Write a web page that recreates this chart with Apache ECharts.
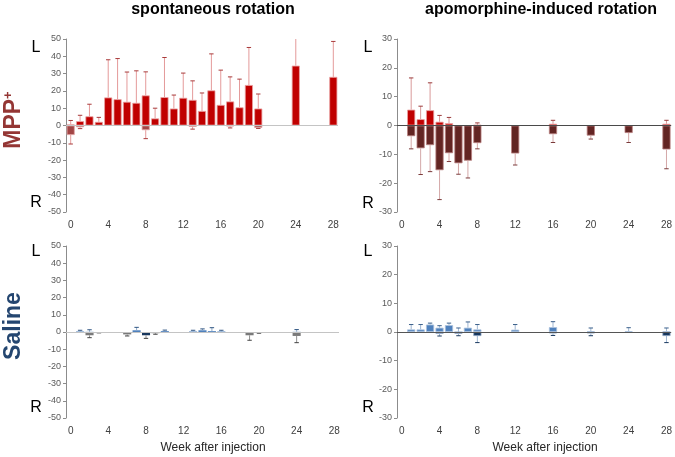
<!DOCTYPE html>
<html>
<head>
<meta charset="utf-8">
<script src="https://cdn.jsdelivr.net/npm/echarts@6/dist/echarts.min.js"></script>
<style>html,body{margin:0;padding:0;background:#fff}#c{width:675px;height:457px}</style>
</head>
<body>
<div id="c"></div>
<script>
// Category labels (weeks after injection)
const weeks = ['0','1','2','3','4','5','6','7','8','9','10','11','12','13','14','15','16','17','18','19','20','21','22','23','24','25','26','27','28'];

// MPP+ spontaneous rotation
const tlLWeeks = [0,1,2,3,4,5,6,7,8,9,10,11,12,13,14,15,16,17,18,19,20,24,28];
const tlL      = [0.6,2.5,5.3,2.1,16.2,15.2,13.7,13.1,17.4,4.1,16.4,9.8,16.0,14.8,8.4,20.3,11.9,13.9,10.5,23.4,9.8,34.6,28.1];
const tlLErr   = [2.3,3.4,7.0,2.6,21.8,23.5,17.2,18.5,13.6,5.9,22.9,7.8,14.3,11.0,10.4,21.1,20.1,14.2,16.3,21.7,8.4,16.0,20.5];
const tlRWeeks = [0,1,8,13,17,20];
const tlR      = [-5.5,-1.0,-2.7,-0.8,-0.5,-1.4];
const tlRErr   = [5.2,0.8,4.9,1.3,0.9,0.3];

// MPP+ apomorphine-induced rotation
const trLWeeks = [1,2,3,4,5,8,16,28];
const trL      = [5.5,2.2,5.3,1.3,0.8,0.2,0.6,0.6];
const trLErr   = [11.0,4.5,9.5,2.2,2.0,0.7,1.2,1.2];
const trRWeeks = [1,2,3,4,5,6,7,8,12,16,20,24,28];
const trR      = [-3.7,-7.9,-6.8,-15.5,-9.6,-13.1,-12.2,-6.1,-9.7,-3.0,-3.5,-2.6,-8.3];
const trRErr   = [4.4,9.1,9.2,10.2,2.9,3.8,6.0,2.0,4.0,2.9,1.2,3.3,6.7];

// Saline spontaneous rotation
const blLWeeks = [1,2,7,10,13,14,15,16,24];
const blL      = [0.3,0.1,1.0,0.5,0.3,1.0,0.5,0.3,0.1];
const blLErr   = [0.7,1.2,1.7,0.6,0.7,0.8,2.0,0.7,1.3];
const blRWeeks = [2,3,6,8,9,19,20,24];
const blR      = [-1.9,-0.3,-1.4,-1.9,-0.7,-1.9,-0.5,-2.3];
const blRErr   = [1.4,0.2,0.9,1.8,0.6,2.9,0.2,3.9];

// Saline apomorphine-induced rotation
const brLWeeks = [1,2,3,4,5,6,7,8,12,16,20,24,28];
const brL      = [0.9,0.9,2.6,1.5,2.4,0,1.5,0.9,0.8,1.7,0.3,0.3,0.2];
const brLErr   = [1.7,1.7,0.5,0.7,0.7,1.4,2.0,1.7,1.8,1.9,1.1,1.2,1.2];
const brRWeeks = [4,6,8,16,20,28];
const brR      = [-0.6,-0.6,-1.4,-0.5,-0.5,-1.4];
const brRErr   = [0.8,0.7,2.3,0.7,0.8,2.3];

const yTicksTop = {min:-50,max:50,interval:10};
const yTicksApo = {min:-30,max:30,interval:10};

const chart = echarts.init(document.getElementById('c'));

const grids = [
  {left:66, top:39, width:272, height:173},
  {left:397, top:39, width:276, height:173},
  {left:66, top:246, width:273, height:172},
  {left:397, top:246, width:276, height:172}
];

function xAx(i){
  return {type:'category', gridIndex:i, data:weeks, boundaryGap:true,
    axisLine:{show:false, onZero:false}, axisTick:{show:false},
    axisLabel:{interval:3, fontSize:10, color:'#404040', fontFamily:'Liberation Sans, Arial', margin:8}};
}
function yAx(i, t){
  return {type:'value', gridIndex:i, min:t.min, max:t.max, interval:t.interval,
    splitLine:{show:false},
    axisLine:{show:true, lineStyle:{color:'#8c8c8c'}},
    axisTick:{show:true, length:3, lineStyle:{color:'#8c8c8c'}},
    axisLabel:{fontSize:9, color:'#595959', fontFamily:'Liberation Sans, Arial', margin:5}};
}

function pairs(w, v){ return w.map((x,k)=>[x, v[k]]); }
function errData(w, v, e, sign){ return w.map((x,k)=>[x, v[k], v[k] + sign*e[k]]); }

function zeroLine(i, color){
  return {type:'line', xAxisIndex:i, yAxisIndex:i, data:[], z:1, silent:true,
    markLine:{silent:true, symbol:'none', label:{show:false}, animation:false,
      lineStyle:{color:color, type:'solid', width:1}, data:[{yAxis:0}]}};
}
function barSeries(i, w, v, color, border, bw){
  return {type:'bar', xAxisIndex:i, yAxisIndex:i, data:pairs(w,v), barWidth:'86%', barGap:'-100%',
    itemStyle:{color:color, borderColor:border, borderWidth:(bw === undefined ? 0.8 : bw)}, z:2, silent:true};
}
function errSeries(i, w, v, e, sign, lineColor, capColor){
  return {type:'custom', xAxisIndex:i, yAxisIndex:i, data:errData(w,v,e,sign), clip:true, z:3, silent:true,
    renderItem:function(params, api){
      const x = api.value(0), a = api.value(1), b = api.value(2);
      const p0 = api.coord([x, a]);
      const p1 = api.coord([x, b]);
      return {type:'group', children:[
        {type:'line', shape:{x1:p0[0], y1:p0[1], x2:p1[0], y2:p1[1]}, style:{stroke:lineColor, lineWidth:1}},
        {type:'line', shape:{x1:p1[0]-2.2, y1:p1[1], x2:p1[0]+2.2, y2:p1[1]}, style:{stroke:capColor, lineWidth:1}}
      ]};
    }};
}

const series = [
  zeroLine(0, '#c4c4c4'),
  barSeries(0, tlLWeeks, tlL, '#c00000', '#eaa2a2'),
  barSeries(0, tlRWeeks, tlR, '#a24545', '#e2a4a4'),
  errSeries(0, tlLWeeks, tlL, tlLErr, 1, '#e49a9a', '#a83a3a'),
  errSeries(0, tlRWeeks, tlR, tlRErr, -1, '#e49a9a', '#a83a3a'),

  zeroLine(1, '#4a4a4a'),
  barSeries(1, trLWeeks, trL, '#c00000', '#eaa2a2'),
  barSeries(1, trRWeeks, trR, '#632523', '#b98080'),
  errSeries(1, trLWeeks, trL, trLErr, 1, '#d99a9a', '#9a3a3a'),
  errSeries(1, trRWeeks, trR, trRErr, -1, '#d4a8a8', '#7a3a3a'),

  zeroLine(2, '#c4c4c4'),
  barSeries(2, blLWeeks, blL, '#4f81bd', '#4f81bd', 0),
  Object.assign(barSeries(2, blRWeeks, blR, '#808080', '#808080', 0),
    {itemStyle:{borderWidth:0,
      color:function(p){ return p.data[0] === 8 ? '#17375e' : '#7a7a7a'; }}}),
  errSeries(2, blLWeeks, blL, blLErr, 1, '#8fa9c8', '#2f5582'),
  errSeries(2, blRWeeks, blR, blRErr, -1, '#909090', '#404040'),

  zeroLine(3, '#555555'),
  barSeries(3, brLWeeks, brL, '#4f81bd', '#a9c0dc'),
  barSeries(3, brRWeeks, brR, '#17375e', '#8da4c4'),
  errSeries(3, brLWeeks, brL, brLErr, 1, '#9fb6d2', '#3a5f8a'),
  errSeries(3, brRWeeks, brR, brRErr, -1, '#9fb6d2', '#17375e')
];

const txt = (x, y, text, font, color, extra) => Object.assign({type:'text', x:x, y:y, silent:true,
  style:{text:text, font:font, fill:color, align:'center', verticalAlign:'middle'}}, extra || {});

const graphic = [
  txt(213, 10, 'spontaneous rotation', 'bold 16px "Liberation Sans", Arial', '#000'),
  txt(541, 10, 'apomorphine-induced rotation', 'bold 16px "Liberation Sans", Arial', '#000'),
  txt(36, 48, 'L', '16px "Liberation Sans", Arial', '#000'),
  txt(36, 203, 'R', '16px "Liberation Sans", Arial', '#000'),
  txt(368, 48, 'L', '16px "Liberation Sans", Arial', '#000'),
  txt(368, 204, 'R', '16px "Liberation Sans", Arial', '#000'),
  txt(36, 252, 'L', '16px "Liberation Sans", Arial', '#000'),
  txt(36, 408, 'R', '16px "Liberation Sans", Arial', '#000'),
  txt(368, 252, 'L', '16px "Liberation Sans", Arial', '#000'),
  txt(368, 408, 'R', '16px "Liberation Sans", Arial', '#000'),
  txt(213, 448, 'Week after injection', '12px "Liberation Sans", Arial', '#262626'),
  txt(545, 448, 'Week after injection', '12px "Liberation Sans", Arial', '#262626'),
  {type:'text', x:14, y:120, rotation:Math.PI/2, silent:true,
    style:{text:'MPP{sup|+}', font:'bold 23px "Liberation Sans", Arial', fill:'#943634', align:'center', verticalAlign:'middle',
      rich:{sup:{font:'bold 13px "Liberation Sans", Arial', fill:'#943634', verticalAlign:'top', padding:[0,0,12,0]}}}},
  {type:'text', x:14, y:326, rotation:Math.PI/2, silent:true,
    style:{text:'Saline', font:'bold 23px "Liberation Sans", Arial', fill:'#244670', align:'center', verticalAlign:'middle'}}
];

chart.setOption({
  animation:false,
  backgroundColor:'#ffffff',
  grid:grids,
  xAxis:[xAx(0), xAx(1), xAx(2), xAx(3)],
  yAxis:[yAx(0, yTicksTop), yAx(1, yTicksApo), yAx(2, yTicksTop), yAx(3, yTicksApo)],
  series:series,
  graphic:graphic
});
</script>
</body>
</html>
